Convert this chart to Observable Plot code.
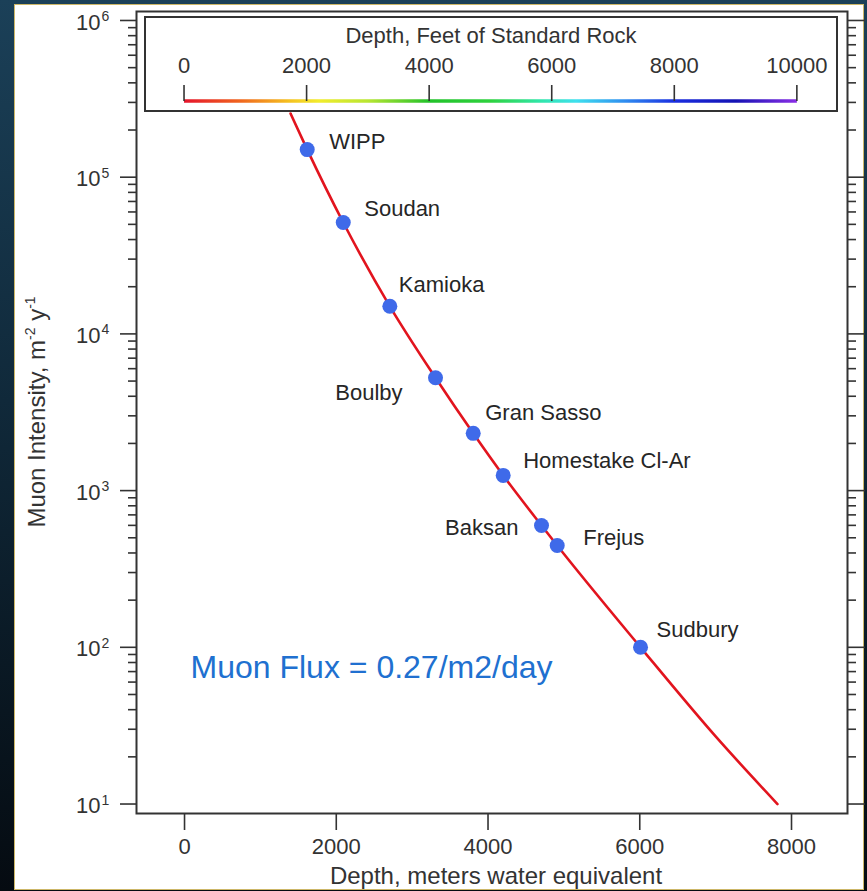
<!DOCTYPE html>
<html><head><meta charset="utf-8">
<script src="https://cdn.jsdelivr.net/npm/d3@7"></script>
<script src="https://cdn.jsdelivr.net/npm/@observablehq/plot@0.6"></script>
<style>
html,body{margin:0;padding:0;}
body{width:867px;height:891px;background:linear-gradient(180deg,#1b4058 0%,#10293a 45%,#050b11 100%);position:relative;overflow:hidden;font-family:"Liberation Sans",Arial,sans-serif;}
#panel{position:absolute;left:14px;top:4px;width:848px;height:884px;background:#fff;border:1px solid #cdb768;}
#panel svg{display:block;}
</style></head><body><div id="panel"></div>
<script>
// ---- data ----
const sites = ["WIPP","Soudan","Kamioka","Boulby","Gran Sasso","Homestake Cl-Ar","Baksan","Frejus","Sudbury"];
const siteDepth = [1617, 2092, 2706, 3308, 3805, 4200, 4705, 4912, 6010];
const siteFlux = [1.50e5, 5.14e4, 1.50e4, 5.25e3, 2.32e3, 1.25e3, 599, 446, 100];
const curveDepth = [1397, 1617, 2092, 2706, 3308, 3805, 4200, 4705, 4912, 6010, 7000, 7815];
const curveFlux = [2.55e5, 1.50e5, 5.14e4, 1.50e4, 5.25e3, 2.32e3, 1.25e3, 599, 446, 100, 27, 10];
const depthTicks = [0, 2000, 4000, 6000, 8000];
const decadeExponents = [1, 2, 3, 4, 5, 6];
const feetTicks = [0, 2000, 4000, 6000, 8000, 10000];
const noteText = "Muon Flux = 0.27/m2/day";
const noteDepth = 79;
const noteFlux = 74;
const xTitle = "Depth, meters water equivalent";
const legendTitle = "Depth, Feet of Standard Rock";
const FT_TO_MWE = 0.3048 * 2.65;

// ---- layout (label placement) ----
const placement = {
  "WIPP": {dx: 22, dy: -8, anchor: "start"},
  "Soudan": {dx: 21, dy: -14, anchor: "start"},
  "Kamioka": {dx: 9, dy: -21, anchor: "start"},
  "Boulby": {dx: -33, dy: 15, anchor: "end"},
  "Gran Sasso": {dx: 12, dy: -20, anchor: "start"},
  "Homestake Cl-Ar": {dx: 20, dy: -14, anchor: "start"},
  "Baksan": {dx: -23, dy: 2, anchor: "end"},
  "Frejus": {dx: 26, dy: -8, anchor: "start"},
  "Sudbury": {dx: 16, dy: -17, anchor: "start"}
};

const table = sites.map((name, i) => ({name, depth: siteDepth[i], flux: siteFlux[i]}));
const curve = curveDepth.map((d, i) => ({depth: d, flux: curveFlux[i]}));
const majors = decadeExponents.map(e => 10 ** e);
const minors = [];
for (let e = 1; e < 6; e++) for (let k = 2; k <= 9; k++) minors.push(k * 10 ** e);

const ink = "#333";
const font = "'Liberation Sans', Arial, sans-serif";

function legendMark(index, scales, values, dims) {
  const x = scales.x;
  const left = dims.marginLeft + 9, right = dims.width - dims.marginRight - 10;
  const top = dims.marginTop + 6, h = 94;
  const g = d3.create("svg:g").attr("font-family", font);
  const grad = g.append("defs").append("linearGradient").attr("id", "rockGrad")
    .attr("gradientUnits", "userSpaceOnUse")
    .attr("x1", x(0)).attr("x2", x(10000 * FT_TO_MWE)).attr("y1", 0).attr("y2", 0);
  [[0, "#e5142c"], [0.09, "#f0641e"], [0.17, "#f5c020"], [0.22, "#f2ec2c"], [0.3, "#b8e632"],
   [0.4, "#22c22a"], [0.5, "#2ed23e"], [0.58, "#30e6a8"], [0.64, "#3ee0ee"], [0.72, "#2f8cf0"],
   [0.8, "#1a2ee0"], [0.9, "#1412b4"], [1, "#8a2ee6"]].forEach(([o, c]) =>
    grad.append("stop").attr("offset", o).attr("stop-color", c));
  g.append("rect").attr("x", left).attr("y", top).attr("width", right - left).attr("height", h)
    .attr("fill", "white").attr("stroke", ink).attr("stroke-width", 2);
  g.append("line").attr("x1", x(0)).attr("x2", x(10000 * FT_TO_MWE))
    .attr("y1", top + 84).attr("y2", top + 84).attr("stroke", "url(#rockGrad)").attr("stroke-width", 3.5);
  feetTicks.forEach(f => {
    g.append("line").attr("x1", x(f * FT_TO_MWE)).attr("x2", x(f * FT_TO_MWE))
      .attr("y1", top + 68).attr("y2", top + 84).attr("stroke", ink).attr("stroke-width", 1.6);
    g.append("text").attr("x", x(f * FT_TO_MWE)).attr("y", top + 48).attr("dy", "0.35em")
      .attr("text-anchor", "middle").attr("font-size", 22).attr("fill", ink).text(String(f));
  });
  g.append("text").attr("x", (left + right) / 2).attr("y", top + 18).attr("dy", "0.35em")
    .attr("text-anchor", "middle").attr("font-size", 22).attr("fill", ink).text(legendTitle);
  return g.node();
}

function yLabelMark(index, scales, values, dims) {
  const cy = (dims.marginTop + dims.height - dims.marginBottom) / 2;
  const g = d3.create("svg:g");
  const t = g.append("text").attr("transform", `translate(30,${cy}) rotate(-90)`)
    .attr("text-anchor", "middle").attr("font-family", font).attr("font-size", 24).attr("fill", ink);
  t.append("tspan").text("Muon Intensity, m");
  t.append("tspan").attr("dy", -10).attr("font-size", 14).text("-2");
  t.append("tspan").attr("dy", 10).text(" y");
  t.append("tspan").attr("dy", -10).attr("font-size", 14).text("-1");
  return g.node();
}

const marks = [
  Plot.line(curve, {x: "depth", y: "flux", stroke: "#e2141e", strokeWidth: 2.6, curve: "monotone-x"}),
  Plot.dot(table, {x: "depth", y: "flux", r: 7.5, fill: "#3f6ae9", stroke: null}),
  legendMark,
  ...table.map(d => Plot.text([d], {
    x: "depth", y: "flux", text: "name",
    dx: placement[d.name].dx, dy: placement[d.name].dy, textAnchor: placement[d.name].anchor,
    fontSize: 22, fill: "#262626", lineAnchor: "middle"
  })),
  Plot.text([{text: noteText, depth: noteDepth, flux: noteFlux}], {
    x: "depth", y: "flux", text: "text", textAnchor: "start", fontSize: 32, fill: "#2070d0", lineAnchor: "middle"
  }),
  Plot.frame({stroke: ink, strokeWidth: 2}),
  Plot.axisX(depthTicks, {anchor: "bottom", tickSize: 17, tickPadding: 8, fontSize: 22, color: ink,
    strokeWidth: 1.6, tickFormat: d => String(d), label: null}),
  Plot.axisY(majors, {anchor: "left", tickSize: 16, tickFormat: () => "", color: ink, strokeWidth: 1.6, label: null}),
  Plot.axisY(minors, {anchor: "left", tickSize: 8, tickFormat: () => "", color: ink, strokeWidth: 1.6, label: null}),
  Plot.axisY(majors, {anchor: "right", tickSize: 17, tickFormat: () => "", color: ink, strokeWidth: 1.6, label: null}),
  Plot.axisY(minors, {anchor: "right", tickSize: 8, tickFormat: () => "", color: ink, strokeWidth: 1.6, label: null}),
  Plot.text(decadeExponents, {y: d => 10 ** d, text: () => "10", frameAnchor: "left", textAnchor: "end",
    dx: -36, dy: 2, fontSize: 22, fill: ink, lineAnchor: "middle"}),
  Plot.text(decadeExponents, {y: d => 10 ** d, text: d => String(d), frameAnchor: "left", textAnchor: "start",
    dx: -35, dy: -4, fontSize: 14, fill: ink, lineAnchor: "middle"}),
  Plot.text([xTitle], {frameAnchor: "bottom", dx: 4, dy: 63, fontSize: 24, fill: ink, lineAnchor: "middle"}),
  yLabelMark
];

const chart = Plot.plot({
  width: 848, height: 884,
  marginLeft: 121, marginRight: 16, marginTop: 6, marginBottom: 76,
  x: {domain: [-633, 8738]},
  y: {type: "log", domain: [8.70, 1.141e6]},
  style: {fontFamily: font, background: "white", color: ink, overflow: "visible"},
  marks
});
document.getElementById("panel").appendChild(chart);
</script>
</body></html>
